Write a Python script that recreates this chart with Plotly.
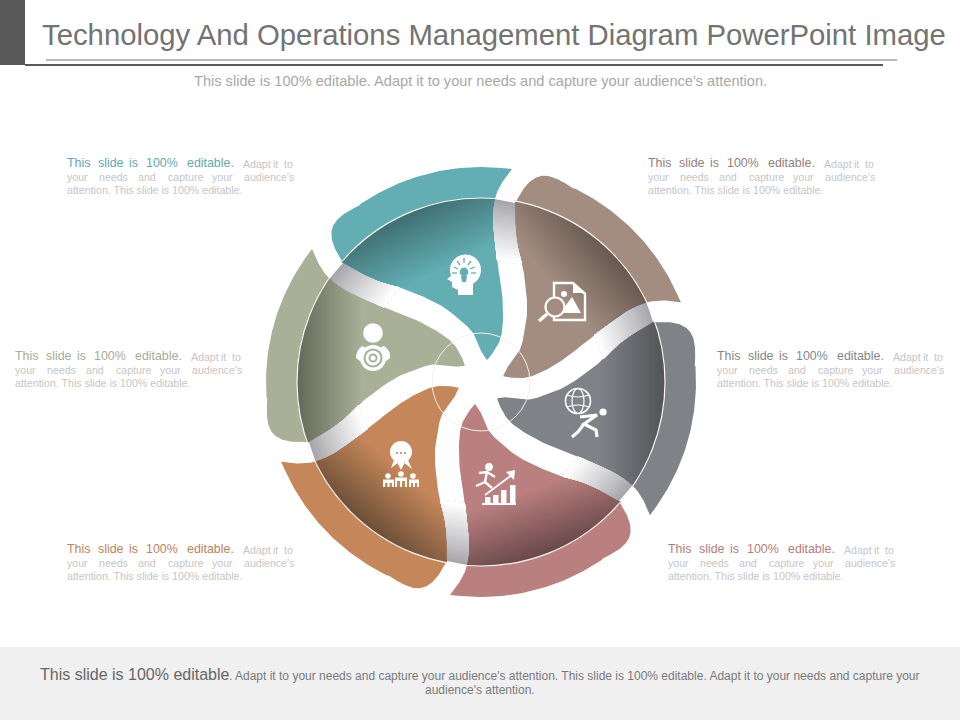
import numpy as np
import plotly.graph_objects as go

# ---------- content ----------
TITLE = "Technology And Operations Management Diagram PowerPoint Image"
SUBTITLE = "This slide is 100% editable. Adapt it to your needs and capture your audience's attention."
FOOT_LEAD = "This slide is 100% editable"
FOOT_REST = ". Adapt it to your needs and capture your audience's attention. This slide is 100% editable. Adapt it to your needs and capture your"
FOOT_LAST = "audience's attention."
LINE1 = ["This", "slide", "is", "100%", "editable.", "Adapt", "it", "to"]
LINE1_DX = [0, 31, 62, 79, 120, 176, 206, 217]
LINE2 = ["your", "needs", "and", "capture", "your", "audience's"]
LINE2_DX = [0, 32, 71, 101, 145, 177]
LINE3 = "attention. This slide is 100% editable."

SEGMENTS = ["teal", "brown", "gray", "red", "orange", "green"]
BASE = ["#62aeb3", "#a28d80", "#7f8287", "#ba7f7f", "#c5875a", "#a9b097"]
DARK = ["#3f6e72", "#655850", "#515356", "#674749", "#6a4e37", "#636759"]
TEXTC = ["#62a9ae", "#94807a", "#84878a", "#b57c7c", "#bd845a", "#a6ac96"]
SHADE_DEG = [115, 40, 0, -70, -130, 180]
BLOCK_X = [67, 648, 717, 668, 67, 15]
BLOCK_Y = [163, 163, 356, 549, 549, 356]

CX, CY, R_IN, R_OUT, R_HUB = 481, 382, 184, 215, 49

# outline of the top (teal) petal; the other five are this one turned by 60 degrees
LEFT_X = [487, 482, 473, 460, 440, 407, 380, 360, 343]
LEFT_Y = [360, 353, 333, 320, 305, 290, 282, 273, 263]
RIGHT_X = [495, 493, 497, 502, 503, 500, 490, 487]
RIGHT_Y = [199, 220, 260, 293, 320, 340, 357, 360]
CORNER_X = [343, 337, 332, 332, 337, 347, 360]
CORNER_Y = [263, 253, 240, 229, 220, 212, 205]
BAND_TIP = (512, 169)
BAND_END_X = [512, 505, 498, 495]
BAND_END_Y = [169, 178, 190, 199]


def smooth(xs, ys, n=10):
    p = np.column_stack([xs, ys]).astype(float)
    q = np.vstack([2 * p[0] - p[1], p, 2 * p[-1] - p[-2]])
    out = []
    for i in range(1, len(q) - 2):
        p0, p1, p2, p3 = q[i - 1], q[i], q[i + 1], q[i + 2]
        for t in np.linspace(0, 1, n, endpoint=False):
            out.append(0.5 * (2 * p1 + (p2 - p0) * t + (2 * p0 - 5 * p1 + 4 * p2 - p3) * t**2
                              + (3 * p1 - p0 - 3 * p2 + p3) * t**3))
    out.append(p[-1])
    return np.array(out)


def arc(p_from, p_to, r, n=60):
    a0 = np.arctan2(p_from[1] - CY, p_from[0] - CX)
    a1 = np.arctan2(p_to[1] - CY, p_to[0] - CX)
    if a1 < a0:
        a1 += 2 * np.pi
    a = np.linspace(a0, a1, n)
    return np.column_stack([CX + r * np.cos(a), CY + r * np.sin(a)])


def rot(p, deg):
    c, s = np.cos(np.radians(deg)), np.sin(np.radians(deg))
    d = p - [CX, CY]
    return np.column_stack([CX + d[:, 0] * c - d[:, 1] * s, CY + d[:, 0] * s + d[:, 1] * c])


def clip(poly, nrm, t0):
    d = (poly - [CX, CY]) @ nrm - t0
    out = []
    for i in range(len(poly)):
        j = (i + 1) % len(poly)
        if d[i] >= 0:
            out.append(poly[i])
        if d[i] * d[j] < 0:
            out.append(poly[i] + (poly[j] - poly[i]) * d[i] / (d[i] - d[j]))
    return np.array(out) if len(out) > 2 else None


def mix(a, b, f):
    ca = [int(a[i:i + 2], 16) for i in (1, 3, 5)]
    cb = [int(b[i:i + 2], 16) for i in (1, 3, 5)]
    return "rgb(%d,%d,%d)" % tuple(round(x + (y - x) * f) for x, y in zip(ca, cb))


def along(p, length, n):
    s = np.r_[0, np.cumsum(np.hypot(*np.diff(p, axis=0).T))]
    t = np.linspace(0, length, n)
    return np.column_stack([np.interp(t, s, p[:, 0]), np.interp(t, s, p[:, 1])])


left = smooth(LEFT_X, LEFT_Y)       # tip -> circle
right = smooth(RIGHT_X, RIGHT_Y)    # circle -> tip
corner = smooth(CORNER_X, CORNER_Y)
rim = arc(corner[-1], BAND_TIP, R_OUT)
band_end = smooth(BAND_END_X, BAND_END_Y)
arc_in = arc(left[-1], right[0], R_IN)
inner0 = np.vstack([left, arc_in, right])
outer0 = np.vstack([corner, rim, band_end, arc_in[::-1]])

fig = go.Figure()


def poly(p, color, name):
    fig.add_trace(go.Scatter(x=p[:, 0], y=p[:, 1], mode="lines", fill="toself", fillcolor=color,
                             line=dict(width=0, color=color), hoverinfo="skip",
                             showlegend=False, name=name))


for k, seg in enumerate(SEGMENTS):
    poly(rot(outer0, 60 * k), BASE[k], seg + " band")
    inner = rot(inner0, 60 * k)
    poly(inner, BASE[k], seg)
    nrm = np.array([np.cos(np.radians(SHADE_DEG[k])), -np.sin(np.radians(SHADE_DEG[k]))])
    steps = 36
    for i in range(1, steps + 1):
        c = clip(inner, nrm, 118 + i * 66 / steps)
        if c is not None:
            poly(c, mix(BASE[k], DARK[k], i / steps), seg + " shade")

# silver ribbons in the gaps next to the rim: each layer runs from its start to the white end
n_strip = 24
rib_a = along(left[::-1], 62, n_strip + 1)
rib_b = along(rot(right, -60), 62, n_strip + 1)
for k in range(6):
    a, b = rot(rib_a, 60 * k), rot(rib_b, 60 * k)
    for i in range(n_strip):
        q = np.vstack([a[i:], b[i:][::-1]])
        poly(q, mix("#a6a6ab", "#ffffff", (i / (n_strip - 1)) ** 0.9), "ribbon")

shapes = [
    dict(type="rect", x0=0, x1=25, y0=0, y1=65, fillcolor="#595959", line_width=0, layer="below"),
    dict(type="rect", x0=25, x1=883, y0=64, y1=66, fillcolor="#595959", line_width=0, layer="below"),
    dict(type="line", x0=46, x1=897, y0=60, y1=60, line=dict(color="#707070", width=1), layer="below"),
    dict(type="rect", x0=0, x1=960, y0=647, y1=720, fillcolor="#f0f0f0", line_width=0, layer="below"),
    dict(type="circle", x0=CX - R_IN, x1=CX + R_IN, y0=CY - R_IN, y1=CY + R_IN,
         line=dict(color="#fdf8f2", width=1.2)),
    dict(type="circle", x0=CX - R_HUB, x1=CX + R_HUB, y0=CY - R_HUB, y1=CY + R_HUB,
         line=dict(color="#f4f0e8", width=1)),
]


def disc(x, y, r, fill="#ffffff", lw=0, lc="#ffffff", ry=None):
    ry = r if ry is None else ry
    shapes.append(dict(type="circle", x0=x - r, x1=x + r, y0=y - ry, y1=y + ry, fillcolor=fill,
                       line=dict(width=lw, color=lc)))


def pth(d, fill=None, lw=0, lc="#ffffff"):
    s = dict(type="path", path=d, line=dict(width=lw, color=lc))
    if fill:
        s["fillcolor"] = fill
    shapes.append(s)


# head with bulb
disc(465.5, 270, 15.5)
pth("M 451 266 L 451 276 L 447 279 L 452 282 L 452 287 L 458 290 L 458 295 L 473 295 L 473 283 L 480 274 Z", "#ffffff")
disc(464, 272, 4.4, BASE[0])
pth("M 461 276 L 467 276 L 466 282 L 462 282 Z", BASE[0])
for d in ["M 454 267 L 458 269", "M 457 261 L 460 265", "M 464 258 L 464 263", "M 471 261 L 468 265",
          "M 475 267 L 470 269", "M 452 273 L 457 273", "M 476 273 L 471 273"]:
    pth(d, None, 1.3, BASE[0])

# document with magnifier
pth("M 554 283 L 573 283 L 585 294 L 585 320 L 554 320 Z", None, 2.4)
pth("M 573 282 L 586 293 L 573 293 Z", "#ffffff")
pth("M 560 313 L 572 297 L 581 313 Z", "#ffffff")
disc(564, 294, 3)
disc(555, 307, 9.5, BASE[1], 2.2)
pth("M 547 314 L 539 321", None, 3.4)

# person with target
disc(373, 333, 9.8)
pth("M 362 346 Q 373 352 384 346 Q 391 351 390 358 L 386 361 L 360 361 L 356 358 Q 356 351 362 346 Z", "#ffffff")
disc(373, 358, 13)
disc(373, 358, 9.5, BASE[5])
disc(373, 358, 7.5)
disc(373, 358, 4.5, BASE[5])
disc(373, 358, 2.6)

# globe and runner
disc(578, 401, 12.5, "rgba(0,0,0,0)", 1.6)
disc(578, 401, 6, "rgba(0,0,0,0)", 1.2, ry=12.5)
pth("M 567 395 Q 578 399 589 395", None, 1.2)
pth("M 567 407 Q 578 403 589 407", None, 1.2)
disc(603, 412, 3.6)
pth("M 580 417 L 597 415 L 584 424 L 596 430 L 597 437", None, 3.2)
pth("M 584 424 L 578 432 L 572 437", None, 3.2)

# runner and bars
disc(489, 467, 3.9)
pth("M 479 473 L 487 472 L 485 482 L 476 486", None, 2.4)
pth("M 487 472 L 495 477 M 485 482 L 492 488", None, 2.4)
pth("M 485 495 L 512 475", None, 1.8)
pth("M 506 472 L 515 470 L 514 480 Z", "#ffffff")
for x0, top in zip([485, 493, 501, 510], [497, 495, 490, 485]):
    shapes.append(dict(type="rect", x0=x0, x1=x0 + 5.5, y0=top, y1=504, fillcolor="#ffffff", line_width=0))
shapes.append(dict(type="rect", x0=482, x1=516, y0=503, y1=505, fillcolor="#ffffff", line_width=0))

# speech bubble and people
disc(401, 452, 11)
pth("M 394 460 L 391 468 L 399 462 Z M 408 460 L 412 469 L 403 462 Z M 397 462 L 401 470 L 405 462 Z", "#ffffff")
for x in (397, 401, 405):
    disc(x, 453, 1.1, BASE[4])
for x, y, x0, x1 in [(388, 476, 383, 394), (401, 474, 395, 407), (413, 476, 409, 419)]:
    disc(x, y, 2.8)
    shapes.append(dict(type="rect", x0=x0, x1=x1, y0=y + 3.5, y1=487, fillcolor="#ffffff", line_width=0))
    shapes.append(dict(type="rect", x0=x0 + 2, x1=x1 - 2, y0=y + 7, y1=487, fillcolor=BASE[4], line_width=0))
    shapes.append(dict(type="rect", x0=(x0 + x1) / 2 - 1, x1=(x0 + x1) / 2 + 1, y0=y + 7, y1=487,
                       fillcolor="#ffffff", line_width=0))

ann = []


def text(x, y, s, size, color, anchor="left", font="Liberation Sans"):
    ann.append(dict(x=x, y=y, text=s, showarrow=False, xanchor=anchor, yanchor="middle", xref="x", yref="y",
                    font=dict(family=font, size=size, color=color), borderpad=0, borderwidth=0))


text(42, 34, TITLE, 29.3, "#737373")
text(480.5, 81, SUBTITLE, 14.6, "#a8a8a8", "center")
for k in range(6):
    x, y = BLOCK_X[k], BLOCK_Y[k]
    for i, (w, dx) in enumerate(zip(LINE1, LINE1_DX)):
        if i < 5:
            text(x + dx, y, w, 12.4, TEXTC[k])
        else:
            text(x + dx, y + 1, w, 10.6, "#c6c6c6")
    for w, dx in zip(LINE2, LINE2_DX):
        text(x + dx, y + 14, w, 10.6, "#c6c6c6")
    text(x, y + 27, LINE3, 10.65, "#c6c6c6")
text(40, 674, FOOT_LEAD, 16, "#666666")
text(229, 675.5, FOOT_REST, 12, "#7a7a7a")
text(480, 690, FOOT_LAST, 12, "#7a7a7a", "center")

fig.update_layout(
    width=960, height=720, margin=dict(l=0, r=0, t=0, b=0, pad=0),
    paper_bgcolor="#ffffff", plot_bgcolor="#ffffff", showlegend=False,
    xaxis=dict(range=[0, 960], visible=False, fixedrange=True),
    yaxis=dict(range=[720, 0], visible=False, fixedrange=True),
    shapes=shapes, annotations=ann,
)
fig.write_html("out.html", config=dict(displayModeBar=False),
               post_script="document.body.style.margin='0';")
